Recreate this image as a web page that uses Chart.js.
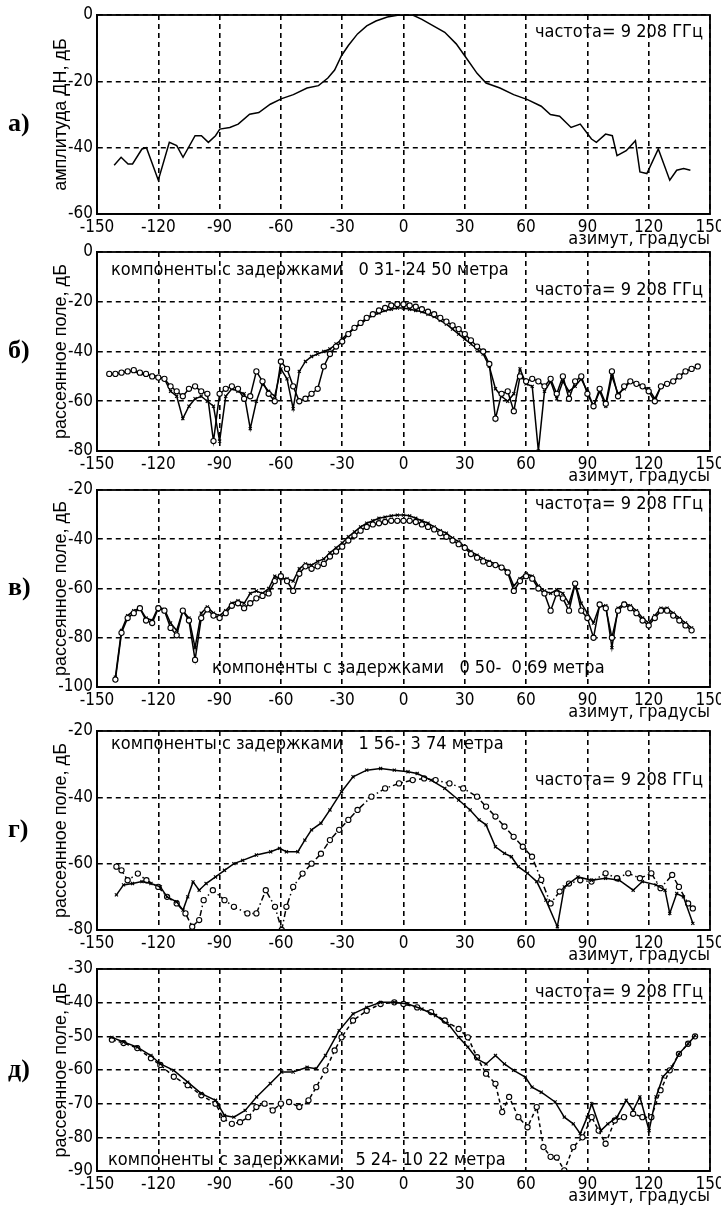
<!DOCTYPE html>
<html>
<head>
<meta charset="utf-8">
<script src="https://cdn.jsdelivr.net/npm/chart.js@4.4.1/dist/chart.umd.min.js"></script>
<style>
  body { margin: 0; background: #fff; }
  #wrap { position: relative; width: 721px; height: 1208px; overflow: hidden; }
  #wrap canvas { position: absolute; left: 0; }
</style>
</head>
<body>
<div id="wrap"></div>
<script>
// --- данные ---

// а) ДН антенны
const aAzimuth = [-141.6,-138.2,-134.8,-132.6,-128,-125.8,-120,-114.6,-111,-107.9,-102,-98.9,-95.5,-92,-89.9,-85,-80.9,-75.3,-70.8,-65.2,-59.6,-53.9,-47.2,-41.6,-37,-33.7,-30.3,-27,-22.5,-18,-13.5,-7.9,-2.2,4.5,9,14.6,20.2,25.8,30.3,36,40.4,47.2,53.9,60.7,67.4,71.9,76.4,82,86.5,92,94.4,98.9,102.2,104.5,109,113.5,115.7,119.1,124.7,130.3,133.7,137.1,140.4];
const aLevel = [-45.3,-42.9,-44.9,-44.9,-40.4,-40,-49.8,-38.4,-39.4,-42.9,-36.4,-36.4,-38.4,-36.4,-34.4,-33.9,-32.9,-29.9,-29.4,-26.9,-25.2,-24,-22,-21.3,-19,-16.6,-12.2,-9.2,-5.7,-3.3,-1.8,-0.6,0,0,-1.3,-3.3,-5.2,-8.7,-12.6,-17.6,-20.5,-22,-24,-25.5,-27.5,-30,-30.5,-33.9,-32.9,-37.4,-38.4,-35.9,-36.4,-42.4,-40.9,-37.9,-47.3,-47.8,-40.4,-49.8,-46.8,-46.3,-46.8];

// общая сетка азимутов для б) и в), шаг 3 градуса
const gridAzimuth = [-144,-141,-138,-135,-132,-129,-126,-123,-120,-117,-114,-111,-108,-105,-102,-99,-96,-93,-90,-87,-84,-81,-78,-75,-72,-69,-66,-63,-60,-57,-54,-51,-48,-45,-42,-39,-36,-33,-30,-27,-24,-21,-18,-15,-12,-9,-6,-3,0,3,6,9,12,15,18,21,24,27,30,33,36,39,42,45,48,51,54,57,60,63,66,69,72,75,78,81,84,87,90,93,96,99,102,105,108,111,114,117,120,123,126,129,132,135,138,141,144];

// б) задержки 0.31 - 24.50 м
const bCircles = [-49,-49,-48.5,-48,-47.5,-48.5,-49,-50,-50.5,-51,-54,-56,-58,-55,-54,-56,-57,-76,-57,-55,-54,-55,-59,-58,-48,-52,-57,-60,-44,-47,-54,-60,-59,-57,-55,-46,-41,-38,-36,-33,-30.5,-28.5,-26.5,-25,-23.5,-22.5,-21.5,-21,-21,-21.5,-22,-23,-24,-25,-26.5,-28,-29.5,-31,-33,-35.5,-38,-40,-45,-67,-57,-56,-64,-50,-52,-51,-52,-54,-51,-57,-50,-59,-52,-50,-57,-62,-55,-61,-48,-58,-54,-52,-53,-54,-56,-60,-54,-53,-52,-50,-48,-47,-46];
const bCrosses = [-49,-49,-48.5,-48,-48,-49,-49.5,-49.5,-50,-51,-56,-58,-67,-62,-59,-58,-60,-62,-76,-58,-55,-56,-57,-71,-60,-53,-56,-58,-47,-51,-63,-48,-44,-42,-41,-40,-39,-37,-35,-32.5,-30.5,-29,-27,-25.5,-24.5,-23.5,-23,-22.5,-22.5,-23,-23.5,-24,-25,-26,-27.5,-29,-31,-33,-35,-37,-39,-41,-46,-55,-58,-60,-57,-47,-53,-54,-80,-56,-52,-59,-52,-56,-54,-51,-56,-62,-56,-62,-50,-57,-55,-52,-53,-54,-55,-59,-54,-53,-52,-50,-48,-47,-46];

// в) задержки 0.50 - 0.69 м
const vCrosses = [null,-96,-77,-71,-69,-68,-72,-73,-67.5,-68.5,-74,-77,-69,-72,-84,-70,-67.5,-70,-71,-69,-66,-65,-66,-62,-61,-62,-60,-55,-56,-56,-57,-52,-50,-50.5,-49,-48,-45.5,-43.5,-41.5,-39,-37,-35,-33.5,-32.5,-31.5,-31,-30.5,-30.2,-30.2,-30.5,-31.5,-32.5,-33.5,-35,-36.5,-37.5,-39.5,-41,-43,-45,-46.5,-48,-49,-50,-51,-53,-59,-56,-54,-55,-59,-61,-62,-60.5,-62,-66,-58,-66,-70,-74,-67,-67,-84,-68,-66,-67,-69,-72,-74,-71,-68,-68,-70,-72,-74,-76,null];
const vCircles = [null,-97,-78,-72,-70,-68,-73,-74,-68,-69,-76,-79,-69,-73,-89,-72,-68.5,-71,-72,-70,-67,-66,-68,-66,-64,-63,-62,-57,-55,-57,-61,-54,-51,-52,-51,-50,-47,-45,-43,-40.5,-38.5,-36.5,-35,-34,-33.5,-33,-32.5,-32.5,-32.5,-32.5,-33,-34,-35,-36,-37.5,-39,-40.5,-42,-43.5,-46,-47.5,-49,-50,-50.5,-51.5,-53.5,-61,-57,-55,-56,-60,-62,-69,-62,-64,-69,-58,-69,-72,-80,-66.5,-68,-80,-69,-66.5,-68,-70,-73,-75,-72,-69,-69,-71,-73,-75,-77,null];

// г) задержки 1.56 - 3.74 м
const gSolidAz = [-140.5,-137,-132.6,-128,-123.6,-119,-115.7,-111,-107.9,-105.6,-103,-100,-96.6,-92,-87.6,-83,-78.7,-72,-65,-60.7,-57.3,-51.7,-48.3,-45,-40.4,-36,-30.3,-24.7,-18,-11.2,-4.5,2.2,6.7,13.5,20.2,27,32.6,37,40.4,45,49.4,52.8,56.2,60.7,65.2,69.7,75.3,78.7,85.4,92,98.9,105.6,112.4,116.9,123.6,128,130.3,133.7,137,141.6];
const gSolid = [-69.4,-66.4,-66,-65.4,-66,-67,-70,-71.5,-74,-70,-65.5,-68,-66,-64,-62,-60,-59,-57.4,-56.4,-55.4,-56.4,-56.4,-52.9,-49.8,-47.8,-43.8,-38.3,-33.8,-31.8,-31.3,-31.8,-32.3,-32.8,-34.8,-37.3,-40.8,-43.8,-46.8,-48.3,-54.9,-56.9,-57.9,-60.9,-62.9,-65.4,-71,-79,-67,-64,-65,-64.4,-65,-68,-65.4,-66.4,-68,-75,-69,-70,-78];
const gDashAz = [-140.5,-138,-135,-130,-125.8,-120,-115.7,-111,-106.7,-103.4,-100,-97.8,-93.3,-87.6,-83,-76.4,-72,-67.4,-62.9,-59.6,-57.3,-54,-49.4,-45,-40.4,-36,-31.5,-27,-22.5,-15.7,-9,-2.2,4.5,10.1,15.7,22.5,29.2,36,40.4,45,49.4,53.9,58.4,62.9,67.4,72,76.4,81,86.5,92,98.9,104.5,110,115.7,121.3,125.8,131.5,134.8,139.3,141.6];
const gDash = [-60.9,-62,-65,-63,-65,-67,-70,-72,-75,-79,-77,-71,-68,-71,-73,-75,-75,-68,-73,-80,-73,-67,-63,-60,-57,-52.9,-49.8,-46.8,-43.8,-39.8,-37.3,-35.8,-34.8,-34.3,-34.8,-35.8,-37.3,-39.8,-42.8,-45.8,-48.8,-51.9,-54.9,-57.9,-64.9,-72,-68.4,-66,-65,-65.4,-62.9,-64.4,-62.9,-64.4,-62.9,-67.4,-63.4,-67,-72,-73.5];

// д) задержки 5.24 - 10.22 м
const dSolidAz = [-142.7,-137,-130.3,-123.6,-119,-112.4,-105.6,-98.9,-92,-87.6,-83,-77.5,-71.9,-65.2,-59.6,-54,-47.2,-42.7,-38.2,-31.5,-24.7,-18,-11.2,-4.5,2.2,9,15.7,22.5,27,31.5,36,40.4,45,49.4,53.9,59.6,62.9,67.4,74.2,78.7,83.1,86.5,89.9,92.1,96.6,100,104.5,109,112.4,115.7,120.2,123.6,127,131.5,134.8,139.3,142.7];
const dSolid = [-50.3,-51.7,-53.2,-55.7,-58.2,-60.1,-63.6,-67,-69,-73.5,-74,-72,-68,-64,-60.6,-60.6,-59.2,-59.6,-55.7,-48.3,-43.3,-41.4,-39.9,-39.9,-40.4,-41.9,-43.8,-46.8,-50.3,-53.2,-56.7,-58.2,-55.7,-58.2,-60.1,-62.1,-65.1,-66.6,-69.5,-74,-76,-78.9,-74,-70,-78,-76,-74,-69,-72,-68,-78,-68,-62,-59.1,-55.2,-52.2,-49.8];
const dDashAz = [-142.7,-137,-130.3,-123.6,-119,-112.4,-105.6,-98.9,-92,-88,-84,-80,-76,-72,-68,-64,-60,-56,-51,-46.5,-42.7,-38.2,-33.7,-30.3,-24.7,-18,-11.2,-4.5,0,6.7,13.5,20.2,27,31.5,36,40.4,45,48.3,51.7,56.2,60.7,65.2,68.5,72,75,78.7,83.1,87.6,92.1,95.5,98.9,103.4,107.9,112.4,116.9,121.3,125.8,130.3,134.8,139.3,142.7];
const dDash = [-51,-52,-53.5,-56.5,-58.5,-62,-64.5,-67.5,-70,-74.5,-76,-75.5,-74,-71,-70,-72,-70,-69.5,-71,-69,-65.1,-60.1,-54.2,-50.3,-45.3,-42.4,-40.4,-39.9,-40.4,-41.4,-42.8,-45.3,-47.8,-50.3,-56.2,-61.1,-64.1,-72.5,-68,-74,-77,-71,-82.9,-85.8,-86,-89.8,-82.9,-80,-74,-78,-81.9,-75,-74,-73,-74,-74,-66,-60.1,-55.2,-52.2,-50];

// --- оформление ---

const NARROW = "'Liberation Sans Narrow', 'Arial Narrow', 'DejaVu Sans Condensed', sans-serif";
const FREQ = 'частота= 9 208 ГГц';

Chart.defaults.color = '#000';
Chart.defaults.font.family = NARROW;

function toPoints(az, level) {
  return az.map((x, i) => ({ x, y: level[i] }));
}

function circleSeries(az, level, dash) {
  return {
    data: toPoints(az, level),
    borderColor: '#000',
    borderWidth: 1.5,
    borderDash: dash || [],
    pointStyle: 'circle',
    pointRadius: 2.6,
    pointBorderWidth: 1.1,
    pointBorderColor: '#000',
    pointBackgroundColor: '#fff',
  };
}

function crossSeries(az, level) {
  return {
    data: toPoints(az, level),
    borderColor: '#000',
    borderWidth: 1.5,
    pointStyle: 'crossRot',
    pointRadius: 2.2,
    pointBorderWidth: 1.1,
    pointBorderColor: '#000',
  };
}

// рамка, буква панели и надписи внутри поля графика
const panelDecor = {
  id: 'panelDecor',
  afterDraw(chart, args, opts) {
    const { ctx, chartArea: a } = chart;
    ctx.save();
    ctx.strokeStyle = '#000';
    ctx.lineWidth = 1.8;
    ctx.strokeRect(a.left, a.top, a.right - a.left, a.bottom - a.top);

    ctx.fillStyle = '#000';
    ctx.font = "bold 26px 'Liberation Serif', 'DejaVu Serif', serif";
    ctx.textAlign = 'left';
    ctx.textBaseline = 'middle';
    ctx.fillText(opts.letter, 8, (a.top + a.bottom) / 2 + (opts.letterShift || 0));

    ctx.font = '18px ' + NARROW;
    opts.notes.forEach(n => {
      ctx.textAlign = n.align;
      ctx.fillText(n.text, n.x, a.top + n.dy);
    });
    ctx.restore();
  }
};

const panels = [
  {
    top: 15, bottom: 214, min: -60, max: 0, step: 20,
    letter: 'а)', letterShift: 10, yTitle: 'амплитуда ДН, дБ',
    notes: [{ text: FREQ, x: 703, dy: 17, align: 'right' }],
    datasets: [{
      data: toPoints(aAzimuth, aLevel),
      borderColor: '#000', borderWidth: 1.5, pointRadius: 0,
    }],
  },
  {
    top: 252, bottom: 451, min: -80, max: 0, step: 20,
    letter: 'б)', yTitle: 'рассеянное поле, дБ',
    notes: [
      { text: 'компоненты с задержками   0 31- 24 50 метра', x: 111, dy: 18, align: 'left' },
      { text: FREQ, x: 703, dy: 38, align: 'right' },
    ],
    datasets: [circleSeries(gridAzimuth, bCircles), crossSeries(gridAzimuth, bCrosses)],
  },
  {
    top: 490, bottom: 687, min: -100, max: -20, step: 20,
    letter: 'в)', yTitle: 'рассеянное поле, дБ',
    notes: [
      { text: FREQ, x: 703, dy: 14, align: 'right' },
      { text: 'компоненты с задержками   0 50-  0 69 метра', x: 212, dy: 178, align: 'left' },
    ],
    datasets: [circleSeries(gridAzimuth, vCircles), crossSeries(gridAzimuth, vCrosses)],
  },
  {
    top: 731, bottom: 930, min: -80, max: -20, step: 20,
    letter: 'г)', yTitle: 'рассеянное поле, дБ',
    notes: [
      { text: 'компоненты с задержками   1 56-  3 74 метра', x: 111, dy: 13, align: 'left' },
      { text: FREQ, x: 703, dy: 49, align: 'right' },
    ],
    datasets: [crossSeries(gSolidAz, gSolid), circleSeries(gDashAz, gDash, [6, 3, 1.5, 3])],
  },
  {
    top: 969, bottom: 1171, min: -90, max: -30, step: 10,
    letter: 'д)', yTitle: 'рассеянное поле, дБ',
    notes: [
      { text: FREQ, x: 703, dy: 23, align: 'right' },
      { text: 'компоненты с задержками   5 24- 10 22 метра', x: 108, dy: 191, align: 'left' },
    ],
    datasets: [crossSeries(dSolidAz, dSolid), circleSeries(dDashAz, dDash, [4, 3])],
  },
];

const gridStyle = { color: '#000', lineWidth: 1.6, drawTicks: false };
const borderStyle = { display: true, color: '#000', width: 1.8, dash: [5, 4] };
const tickFont = { family: NARROW, size: 17 };

panels.forEach(p => {
  const canvas = document.createElement('canvas');
  canvas.width = 721;
  canvas.height = p.bottom - p.top + 15 + 36;
  canvas.style.top = (p.top - 15) + 'px';
  document.getElementById('wrap').appendChild(canvas);

  new Chart(canvas, {
    type: 'line',
    data: { datasets: p.datasets },
    options: {
      responsive: false,
      animation: false,
      devicePixelRatio: 1,
      layout: { padding: { top: 15, right: 11, bottom: 0, left: 0 } },
      plugins: {
        legend: { display: false },
        tooltip: { enabled: false },
        panelDecor: { letter: p.letter, letterShift: p.letterShift, notes: p.notes },
      },
      scales: {
        x: {
          type: 'linear', min: -150, max: 150,
          ticks: { stepSize: 30, padding: 3, font: tickFont, maxRotation: 0, autoSkip: false },
          grid: gridStyle,
          border: borderStyle,
          title: {
            display: true, text: 'азимут, градусы', align: 'end',
            font: { family: NARROW, size: 18 }, padding: { top: 0, bottom: 0 },
          },
          afterFit(s) { s.height = 36; s.paddingLeft = 0; s.paddingRight = 0; },
        },
        y: {
          type: 'linear', min: p.min, max: p.max,
          ticks: { stepSize: p.step, padding: 4, font: tickFont },
          grid: gridStyle,
          border: borderStyle,
          title: {
            display: true, text: p.yTitle,
            font: { family: "'Liberation Sans', Arial, sans-serif", size: 18 },
            padding: { top: 50, bottom: 0 },
          },
          afterFit(s) { s.width = 97; s.paddingTop = 0; s.paddingBottom = 0; },
        },
      },
    },
    plugins: [panelDecor],
  });
});
</script>
</body>
</html>
